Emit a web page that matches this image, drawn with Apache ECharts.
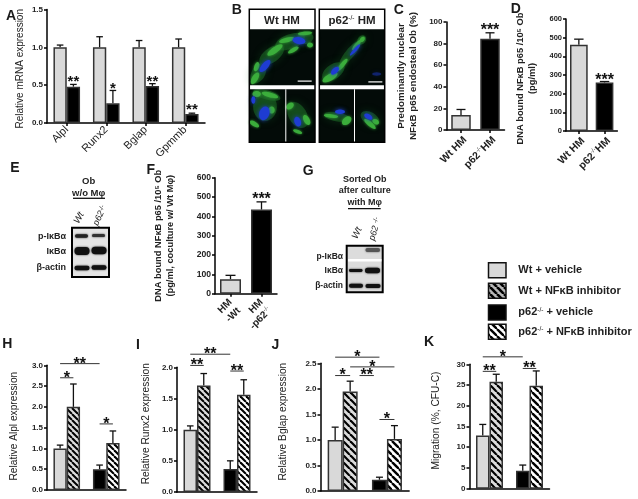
<!DOCTYPE html>
<html><head><meta charset="utf-8">
<style>html,body{margin:0;padding:0;background:#fff}#c{width:638px;height:499px}</style>
<script src="https://cdn.jsdelivr.net/npm/echarts@6/dist/echarts.min.js"></script>
</head><body><div id="c"></div>
<script>
// ---------- data ----------
const genesA = ['Alpl','Runx2','Bglap','Gpmmb'];
const wtA = [1,1,1,1];
const wtATop = [1.03,1.14,1.09,1.11];
const koA = [0.48,0.26,0.49,0.12];
const koATop = [0.51,0.43,0.52,0.13];
const catsHM = ['Wt HM','p62{s|-/-}HM'];
const valC = [14,84.5];
const valCTop = [19,90];
const valD = [462,260];
const valDTop = [492,265];
const catsF = ['HM\n-Wt','HM\n-p62{s|-/-}'];
const valF = [75,435];
const valFTop = [95,475];
const groups = ['Wt','p62-/-'];
const vehH = [1.0,0.5];   const vehHTop = [1.08,0.6];
const inhH = [2.0,1.13];  const inhHTop = [2.55,1.42];
const vehI = [1.0,0.37];  const vehITop = [1.06,0.5];
const inhI = [1.71,1.56]; const inhITop = [1.9,1.8];
const vehJ = [1.0,0.22];  const vehJTop = [1.25,0.27];
const inhJ = [1.95,1.02]; const inhJTop = [2.15,1.28];
const vehK = [12.8,4.3];  const vehKTop = [15.5,5.7];
const inhK = [25.8,24.8]; const inhKTop = [27.6,28.4];
const legendLabels = ['Wt + vehicle','Wt + NFκB inhibitor','p62{s|-/-} + vehicle','p62{s|-/-} + NFκB inhibitor'];
// significance: [first bar, last bar, axis value, stars]
const sigA = [[1,1,0.59,'**'],[3,3,0.51,'*'],[5,5,0.60,'**'],[7,7,0.22,'**']];
const sigC = [[1,1,96,'***']];
const sigD = [[1,1,289,'***']];
const sigF = [[1,1,510,'***']];
const sigH = [[0,2,3.04,'**'],[0,1,2.7,'*'],[2,3,1.59,'*']];
const sigI = [[0,2,2.21,'**'],[0,1,2.03,'**'],[2,3,1.94,'**']];
const sigJ = [[0,2,2.62,'*'],[1,3,2.43,'*'],[0,1,2.26,'*'],[1.32,1.81,2.26,'**'],[2,3,1.40,'*']];
const sigK = [[0,2,31.8,'*'],[0,1,28.3,'**'],[2,3,29.0,'**']];

// ---------- styles ----------
const FF = '"Liberation Sans",Arial,sans-serif';
const GRAY='#d9d9d9', BLACK='#000', EDGE='#333';
function hatch(bg, n, lw){
  const c=document.createElement('canvas'); c.width=c.height=n;
  const x=c.getContext('2d'); x.fillStyle=bg; x.fillRect(0,0,n,n);
  x.strokeStyle='#000'; x.lineWidth=lw;
  [[-n,0],[0,0],[n,0]].forEach(o=>{x.beginPath();x.moveTo(o[0],0);x.lineTo(o[0]+n,n);x.stroke();});
  return {image:c,repeat:'repeat'};
}
const HG=hatch('#dcdcdc',7,2.2), HW=hatch('#ffffff',7,2.4), HL=hatch('#b8b8b8',7,2.6);
const HG6=hatch('#dcdcdc',6,2), HW6=hatch('#ffffff',6,2.1);

const opt={animation:false,backgroundColor:'#fff',grid:[],xAxis:[],yAxis:[],series:[],graphic:{elements:[]}};
const G=opt.graphic.elements;

function panel(p){
  const i=opt.grid.length, n=p.series.length;
  opt.grid.push({left:p.left,top:p.top,width:p.width,height:p.height,containLabel:false});
  opt.xAxis.push({type:'category',gridIndex:i,data:p.cats,
    axisLine:{show:true,lineStyle:{color:'#000',width:1.5}},
    axisTick:{show:!!p.xLabels,alignWithLabel:true,length:3,lineStyle:{color:'#000',width:1.5}},
    axisLabel:p.xLabels?{show:true,interval:0,rotate:45,margin:p.xMargin||5,color:'#222',padding:p.xPad||0,
       fontFamily:FF,fontSize:p.xFont||11,fontWeight:p.xWeight||'normal',lineHeight:p.xLine||12,
       rich:{s:{fontFamily:FF,fontSize:6,fontWeight:'normal',verticalAlign:'top',padding:[0,0,3,0]}}}:{show:false}});
  opt.yAxis.push({type:'value',gridIndex:i,min:0,max:p.max,interval:p.interval,splitLine:{show:false},
    axisLine:{show:true,lineStyle:{color:'#000',width:1.5}},
    axisTick:{show:true,length:3,lineStyle:{color:'#000',width:1.5}},
    axisLabel:{color:'#222',fontFamily:FF,fontSize:p.yFont||8,fontWeight:'bold',margin:4,formatter:p.fmt},
    name:p.yName,nameLocation:'middle',nameGap:p.nameGap,
    nameTextStyle:{color:'#222',fontFamily:FF,fontSize:p.nameFont||10.2,fontWeight:p.nameWeight||'normal',lineHeight:12.5,padding:p.namePad||0}});
  p.series.forEach((s,k)=>{
    opt.series.push({type:'bar',name:s.name,xAxisIndex:i,yAxisIndex:i,barWidth:p.bw,barGap:0,
      data:s.values.map((v,j)=>({value:v,itemStyle:{color:s.fills[j],borderColor:EDGE,borderWidth:1.5}}))});
    const off=(k-(n-1)/2)*p.bw, cap=p.cap;
    opt.series.push({type:'custom',xAxisIndex:i,yAxisIndex:i,silent:true,name:s.name+' error',
      encode:{x:0,y:1},data:s.values.map((v,j)=>[j,s.tops[j],v]),
      renderItem:(pa,api)=>{
        const t=api.coord([api.value(0),api.value(1)]), b=api.coord([api.value(0),api.value(2)]);
        const x=t[0]+off, st={stroke:'#111',lineWidth:1.3};
        return {type:'group',children:[
          {type:'line',shape:{x1:x,y1:b[1],x2:x,y2:t[1]},style:st},
          {type:'line',shape:{x1:x-cap,y1:t[1],x2:x+cap,y2:t[1]},style:st}]};
      }});
  });
  const sig=p.sig||[];
  opt.series.push({type:'custom',xAxisIndex:i,yAxisIndex:i,silent:true,name:'significance',clip:false,
    encode:{x:0,y:1},data:sig.map(b=>[0,b[2]]),
    renderItem:(pa,api)=>{
      const b=sig[pa.dataIndex];
      const ctr=q=>api.coord([Math.floor(q/n),0])[0]+((q%n)-(n-1)/2)*p.bw;
      const at=q=>{const a=Math.floor(q),c=Math.ceil(q);return ctr(a)+(ctr(c)-ctr(a))*(q-a);};
      const y=api.coord([0,api.value(1)])[1], x1=at(b[0]), x2=at(b[1]), lined=b[0]!==b[1];
      const kids=[{type:'text',style:{text:b[3],x:(x1+x2)/2,y:y+(lined?0.5:4),align:'center',verticalAlign:'middle',
        font:'bold '+(p.starFont||16)+'px '+FF,fill:'#111'}}];
      if(lined) kids.push({type:'line',shape:{x1:x1,y1:y,x2:x2,y2:y},style:{stroke:'#333',lineWidth:1}});
      return {type:'group',children:kids};
    }});
}

const dec1=v=>v.toFixed(1);
panel({left:47,top:9.5,width:158,height:113.5,cats:genesA,max:1.5,interval:0.5,fmt:dec1,bw:13.3,cap:3.3,
  yName:'Relative mRNA expression',nameGap:21,nameFont:10,namePad:[0,5,0,0],xLabels:true,sig:sigA,starFont:15,
  series:[{name:'Wt',values:wtA,tops:wtATop,fills:wtA.map(()=>GRAY)},{name:'p62-/-',values:koA,tops:koATop,fills:koA.map(()=>BLACK)}]});
panel({left:446.5,top:22,width:58,height:108,cats:catsHM,max:100,interval:20,bw:19.5,cap:4.5,
  yName:'Predominantly nuclear\nNFκB p65 endosteal Ob (%)',nameGap:26.5,nameFont:9.8,nameWeight:'bold',xLabels:true,xFont:10.5,xWeight:'bold',xMargin:4,xPad:[12,0,0,0],sig:sigC,
  series:[{name:'C',values:valC,tops:valCTop,fills:[GRAY,BLACK]}]});
panel({left:566,top:19,width:51.4,height:112,cats:catsHM,max:600,interval:100,bw:17.7,cap:4.7,yFont:7.5,
  yName:'DNA bound NFκB p65 /10⁵ Ob\n(pg/ml)',nameGap:27,nameWeight:'bold',nameFont:9.3,namePad:[0,7,0,0],xLabels:true,xFont:10.5,xWeight:'bold',xMargin:4,xPad:[12,0,0,0],sig:sigD,
  series:[{name:'D',values:valD,tops:valDTop,fills:[GRAY,BLACK]}]});
panel({left:215,top:177.7,width:62,height:116,cats:catsF,max:600,interval:100,bw:21,cap:5,yFont:8.6,
  yName:'DNA bound NFκB p65 /10⁵ Ob\n(pg/ml, coculture w/ Wt Mφ)',nameGap:38,nameWeight:'bold',nameFont:9.3,xLabels:true,xFont:10,xWeight:'bold',xMargin:7,xPad:[12,0,0,0],sig:sigF,
  series:[{name:'F',values:valF,tops:valFTop,fills:[GRAY,BLACK]}]});
const gv=[GRAY,BLACK], gi=[HG,HW], gi6=[HG6,HW6];
panel({left:47,top:365.3,width:79,height:124.7,cats:groups,max:3,interval:0.5,fmt:dec1,bw:13.3,cap:3.3,
  yName:'Relative Alpl expression',nameGap:27,namePad:[0,0,0,3],sig:sigH,
  series:[{name:'vehicle',values:vehH,tops:vehHTop,fills:gv},{name:'NFκB inhibitor',values:inhH,tops:inhHTop,fills:gi6}]});
panel({left:177,top:367.3,width:80,height:124.7,cats:groups,max:2,interval:0.5,fmt:dec1,bw:13.5,cap:3.3,
  yName:'Relative Runx2 expression',nameGap:25,namePad:[0,0,0,12],sig:sigI,
  series:[{name:'vehicle',values:vehI,tops:vehITop,fills:gv},{name:'NFκB inhibitor',values:inhI,tops:inhITop,fills:gi6}]});
panel({left:320.5,top:363.3,width:88.6,height:127.7,cats:groups,max:2.5,interval:0.5,fmt:dec1,bw:15,cap:3.5,
  yName:'Relative Bglap expression',nameGap:31,namePad:[0,0,0,11],sig:sigJ,
  series:[{name:'vehicle',values:vehJ,tops:vehJTop,fills:gv},{name:'NFκB inhibitor',values:inhJ,tops:inhJTop,fills:gi}]});
panel({left:469.5,top:364.3,width:80,height:124.4,cats:groups,max:30,interval:5,bw:13.5,cap:3.5,
  yName:'Migration (%, CFU-C)',nameGap:27,namePad:[0,0,0,12],sig:sigK,
  series:[{name:'vehicle',values:vehK,tops:vehKTop,fills:gv},{name:'NFκB inhibitor',values:inhK,tops:inhKTop,fills:gi}]});

// ---------- text / image-like decorations ----------
const RICH={s:{fontFamily:FF,fontSize:6.5,fontWeight:'normal',verticalAlign:'top',padding:[0,0,3,0]}};
function text(t,x,y,o){o=o||{};
  G.push({type:'text',x:x,y:y,rotation:(o.rot||0)*Math.PI/180,z:20,
    style:{text:t,x:0,y:0,align:o.align||'center',verticalAlign:'middle',fill:o.fill||'#222',
      fontFamily:FF,fontSize:o.size||10,fontWeight:o.weight||'bold',fontStyle:o.style||'normal',rich:o.rich||RICH}});
}
function rect(x,y,w,h,fill,o){o=o||{};
  G.push({type:'rect',z:o.z||10,shape:{x:x,y:y,width:w,height:h,r:o.r||0},
    style:{fill:fill,stroke:o.stroke||null,lineWidth:o.lw||0,shadowBlur:o.blur||0,shadowColor:o.blurColor||'transparent'}});
}
function band(x,y,w,h,col){rect(x,y-h/2,w,h,col||'#111',{r:h/2,blur:2,blurColor:col||'#222',z:12});}
function line(x1,y1,x2,y2,c,w){G.push({type:'line',z:12,shape:{x1,y1,x2,y2},style:{stroke:c||'#111',lineWidth:w||1.3}});}

[['A',11,16],['B',236.7,10],['C',398.7,10],['D',515.7,9],['E',15,168.3],['F',150.7,170],['G',308.3,171],['H',7.3,344.3],['I',138,344.7],['J',275.3,344.7],['K',429,341.7]]
 .forEach(a=>text(a[0],a[1],a[2],{size:14,fill:'#1a1a1a'}));

// panel B micrographs
function blob(zx,zy,rx,ry,deg,rgb,a,blur,k){
  const cx=225+zx/3, cy=zy/3; k=k||0.75;
  G.push({type:'ellipse',z:11,x:cx,y:cy,rotation:(deg||0)*Math.PI/180,
    shape:{cx:0,cy:0,rx:rx/3*k,ry:ry/3*k},
    style:{fill:`rgba(${rgb},${a||1})`,shadowBlur:blur||4,shadowColor:`rgba(${rgb},${a||1})`}});
}
function micro(x0,xDiv,w){
  rect(x0,9.3,w,133,'#030b08',{z:10});
  rect(x0,9.3,w,20,'#fff',{z:13});
  rect(x0,85.3,w,4,'#fff',{z:13});
  rect(xDiv,89.3,1,53,'#fff',{z:14});
  rect(x0,9.3,w,133,null,{z:15,stroke:'#000',lw:1.5});
}
micro(249.3,285.3,65.7); micro(319.3,354,65.4);
const GR='60,175,60', GD='30,110,40', BL='30,60,210';
// dim haze
[[100,220,38,24,60],[140,165,50,26,35],[195,125,55,26,20],[240,115,30,20,10],
 [325,215,45,26,35],[375,160,55,16,50],[410,120,18,14,50],
 [120,320,42,50,0],[125,285,50,16,-15],[218,345,32,50,30],
 [335,350,45,16,-10],[435,355,36,22,-30]].forEach(b=>blob(b[0],b[1],b[2],b[3],b[4],GD,0.55,9,0.85));
// bright green structures
[[90,235,22,10,60],[95,200,16,8,70],[150,150,30,10,35],[185,120,26,8,15],[240,100,24,6,5],[205,150,20,7,30],[255,135,10,8,0],
 [315,232,28,11,30],[352,195,26,7,50],[395,135,22,6,50],[412,118,10,7,50],
 [88,372,18,8,-30],[135,285,28,8,-15],[95,282,14,10,0],[140,330,10,12,0],
 [195,318,10,14,-50],[245,360,10,18,30],[218,395,16,6,-20],
 [318,348,24,6,-5],[365,362,12,18,-50],[435,372,24,8,-40],[452,365,12,8,-30]].forEach(b=>blob(b[0],b[1],b[2],b[3],b[4],GR,0.95,3,0.9));
[[120,198,30,13,50],[222,122,26,14,-10],[330,212,20,11,45],[390,150,30,6,48],
 [118,340,20,28,-20],[85,300,8,15,0],[218,365,13,20,20],[345,335,20,9,0],[430,350,18,10,-30]]
 .forEach(b=>blob(b[0],b[1],b[2],b[3],b[4],BL,1,4));
blob(455,222,18,7,0,BL,0.45);
rect(225+218/3,80.5,14,1.2,'#fff',{z:14}); rect(225+430/3,81.3,14,1.2,'#fff',{z:14});
text('Wt HM',282,20.5,{size:11.5});
text('p62{s|-/-} HM',352,20.5,{size:11.5});

// panel E blot
rect(72,227.7,37,49.3,'#e4e4e4',{stroke:'#000',lw:2});
band(75,236,13,3.5,'#222'); band(92,235.5,13,3,'#333');
band(74.5,251,15,8); band(91.5,250.5,15,7.5);
band(74.5,268,15,4.5); band(91.5,267.5,15,4.5);
text('p-IκBα',66,236.5,{align:'right',size:9});
text('IκBα',66,251.5,{align:'right',size:9});
text('β-actin',66,268,{align:'right',size:9});
text('Ob',88.7,181.7,{size:9.5}); text('w/o Mφ',88.7,193,{size:9.5});
line(73,198.3,105,198.3);
text('Wt',79,218,{rot:60,style:'italic',size:9.5,weight:'normal'});
text('p62{s|-/-}',100,215.5,{rot:65,style:'italic',size:9,weight:'normal'});

// panel G blot
rect(346.7,245.7,36,46.6,'#dcdcdc',{stroke:'#000',lw:2});
rect(348,259,33.5,2.5,'#fff',{z:11});
band(365.5,250,14.5,4,'#555');
band(349,270.5,13.5,2.8); band(365,270.5,15,5.5);
band(349,285.8,14,4); band(365.5,286,15,4);
text('p-IκBα',343,257,{align:'right',size:8.5});
text('IκBα',343,270.5,{align:'right',size:8.5});
text('β-actin',343,286,{align:'right',size:8.5});
text('Sorted Ob',364.7,179.7,{size:9}); text('after culture',364.7,191,{size:9}); text('with Mφ',364.7,202.3,{size:9});
line(348,208.7,380.7,208.7);
text('Wt',357,233,{rot:65,style:'italic',size:9.5,weight:'normal'});
text('p62 {s|-/-}',375,229,{rot:75,style:'italic',size:9,weight:'normal'});

// legend
[[262.7,GRAY,270.3],[283.3,HL,291],[305,BLACK,312],[324.3,HW,331.7]].forEach((r,k)=>{
  rect(488.5,r[0],17.5,15,r[1],{stroke:'#111',lw:1.5});
  text(legendLabels[k],518.3,r[2],{align:'left',size:11});
});

echarts.init(document.getElementById('c'),null,{renderer:'canvas'}).setOption(opt);
</script></body></html>
